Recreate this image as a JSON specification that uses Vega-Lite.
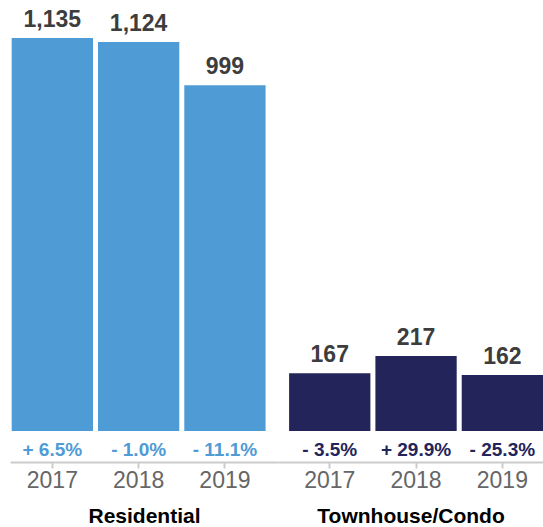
{
  "$schema": "https://vega.github.io/schema/vega-lite/v6.json",
  "padding": {"left": 10, "top": 0, "right": 0, "bottom": 0},
  "spacing": 0,
  "config": {"view": {"stroke": null}, "font": "Liberation Sans"},
  "data": {"values": [
    {"group": "Residential", "year": "2017", "value": 1135, "change": "+ 6.5%"},
    {"group": "Residential", "year": "2018", "value": 1124, "change": "- 1.0%"},
    {"group": "Residential", "year": "2019", "value": 999, "change": "- 11.1%"},
    {"group": "Townhouse/Condo", "year": "2017", "value": 167, "change": "- 3.5%"},
    {"group": "Townhouse/Condo", "year": "2018", "value": 217, "change": "+ 29.9%"},
    {"group": "Townhouse/Condo", "year": "2019", "value": 162, "change": "- 25.3%"}
  ]},
  "hconcat": [
    {
      "width": 268, "height": 431,
      "transform": [{"filter": "datum.group === 'Residential'"}],
      "encoding": {
        "x": {"field": "year", "type": "nominal", "sort": null,
          "scale": {"paddingInner": 0.058, "paddingOuter": 0.0817, "align": 0.12, "round": false},
          "axis": {"title": "Residential", "titleFontSize": 21, "titleFontWeight": "bold", "titleColor": "#000000",
            "labelAngle": 0, "labelFontSize": 23, "labelColor": "#666666", "labelPadding": 1,
            "offset": 31, "tickSize": 6, "tickColor": "#cccccc", "tickWidth": 2, "domainColor": "#cccccc", "domainWidth": 2, "titlePadding": 13}}
      },
      "layer": [
        {"mark": {"type": "bar", "color": "#4F9BD5"},
         "encoding": {"y": {"field": "value", "type": "quantitative", "scale": {"domain": [0, 1245], "nice": false}, "axis": null}}},
        {"mark": {"type": "text", "fontSize": 23, "fontWeight": "bold", "color": "#3d3d3d", "dy": -11, "baseline": "alphabetic"},
         "encoding": {"y": {"field": "value", "type": "quantitative"}, "text": {"field": "value", "type": "quantitative", "format": ","}}},
        {"mark": {"type": "text", "fontSize": 19, "fontWeight": "bold", "color": "#4F9BD5", "dy": 25, "baseline": "alphabetic"},
         "encoding": {"y": {"datum": 0, "type": "quantitative"}, "text": {"field": "change", "type": "nominal"}}}
      ]
    },
    {
      "width": 265, "height": 431,
      "transform": [{"filter": "datum.group === 'Townhouse/Condo'"}],
      "encoding": {
        "x": {"field": "year", "type": "nominal", "sort": null,
          "scale": {"paddingInner": 0.058, "paddingOuter": 0.0643, "align": 1, "round": false},
          "axis": {"title": "Townhouse/Condo", "titleFontSize": 21, "titleFontWeight": "bold", "titleColor": "#000000",
            "labelAngle": 0, "labelFontSize": 23, "labelColor": "#666666", "labelPadding": 1,
            "offset": 31, "tickSize": 6, "tickColor": "#cccccc", "tickWidth": 2, "domainColor": "#cccccc", "domainWidth": 2, "titlePadding": 13}}
      },
      "layer": [
        {"mark": {"type": "bar", "color": "#23255A"},
         "encoding": {"y": {"field": "value", "type": "quantitative", "scale": {"domain": [0, 1245], "nice": false}, "axis": null}}},
        {"mark": {"type": "text", "fontSize": 23, "fontWeight": "bold", "color": "#3d3d3d", "dy": -11, "baseline": "alphabetic"},
         "encoding": {"y": {"field": "value", "type": "quantitative"}, "text": {"field": "value", "type": "quantitative", "format": ","}}},
        {"mark": {"type": "text", "fontSize": 19, "fontWeight": "bold", "color": "#23255A", "dy": 25, "baseline": "alphabetic"},
         "encoding": {"y": {"datum": 0, "type": "quantitative"}, "text": {"field": "change", "type": "nominal"}}}
      ]
    }
  ]
}
